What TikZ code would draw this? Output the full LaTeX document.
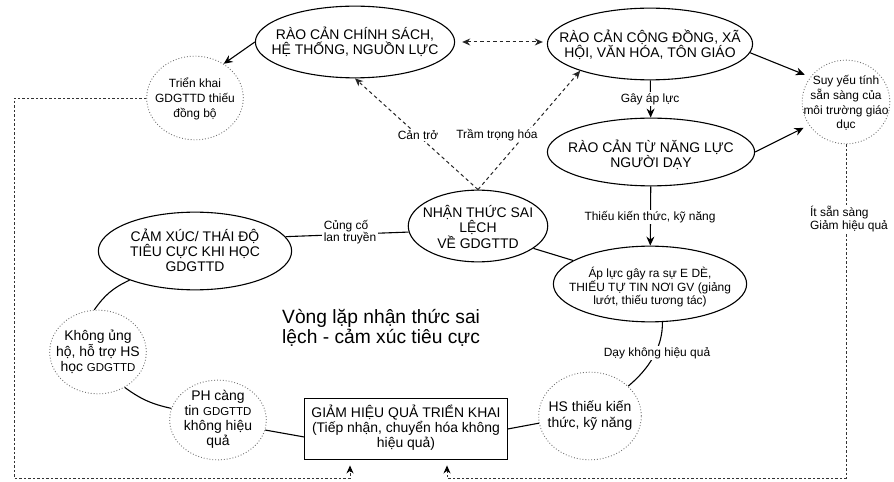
\documentclass[tikz,border=0pt]{standalone}
\usepackage{fontspec}
\setmainfont{Liberation Sans}
\usetikzlibrary{shapes.geometric,arrows.meta,calc}
\begin{document}
\begin{tikzpicture}[x=1bp,y=1bp,
  oval/.style={draw=black, line width=1.1bp, ellipse, inner sep=0pt},
  dotc/.style={draw=black!55, dotted, line width=0.9bp, ellipse, inner sep=0pt},
  boxed/.style={draw=black, line width=1.1bp, rectangle, inner sep=0pt},
  bigtxt/.style={align=center, inner sep=0pt, font=\fontsize{14}{15}\selectfont},
  midtxt/.style={align=center, inner sep=0pt, font=\fontsize{12}{15}\selectfont},
  smltxt/.style={align=center, inner sep=0pt, font=\fontsize{12}{12.5}\selectfont},
  lbl/.style={fill=white, inner sep=1.5bp, align=center, font=\fontsize{12}{12.5}\selectfont},
  conn/.style={draw=black, line width=1.1bp},
  arr/.style={conn, -{Stealth[length=9bp,width=8bp]}},
  dsharr/.style={draw=black!85, line width=1bp, dash pattern=on 3.5bp off 3bp, -{Stealth[length=8bp,width=7bp]}},
  perim/.style={draw=black!80, line width=0.9bp, dash pattern=on 2.5bp off 2bp},
  perimtip/.style={-{Stealth[length=8bp,width=7bp,color=black]}, shorten >=5bp}
]
\useasboundingbox (0,0) rectangle (894,-482);

% main shapes
\node[oval, minimum width=200, minimum height=72] (cs) at (355,-42) {};
\node[bigtxt] (cst) at (355,-42) {RÀO CẢN CHÍNH SÁCH,\\HỆ THỐNG, NGUỒN LỰC};
\node[oval, minimum width=206, minimum height=72] (cd) at (650,-44) {};
\node[bigtxt] (cdt) at (650,-45) {RÀO CẢN CỘNG ĐỒNG, XÃ\\HỘI, VĂN HÓA, TÔN GIÁO};
\node[oval, minimum width=208, minimum height=68] (nl) at (651,-152) {};
\node[bigtxt] (nlt) at (651,-155) {RÀO CẢN TỪ NĂNG LỰC\\NGƯỜI DẠY};
\node[oval, minimum width=140, minimum height=72] (nt) at (478,-226) {};
\node[bigtxt, font=\fontsize{14}{14}\selectfont] (ntt) at (478,-227) {NHẬN THỨC SAI\\LỆCH\\VỀ GDGTTD};
\node[oval, minimum width=194, minimum height=78] (cx) at (195,-251) {};
\node[bigtxt] (cxt) at (195,-250) {CẢM XÚC/ THÁI ĐỘ\\TIÊU CỰC KHI HỌC\\GDGTTD};
\node[oval, minimum width=194, minimum height=76] (ap) at (650,-284) {};
\node[smltxt] (apt) at (650,-287) {Áp lực gây ra sự E DÈ,\\THIẾU TỰ TIN NƠI GV (giảng\\lướt, thiếu tương tác)};
\node[boxed, minimum width=203, minimum height=62] (gh) at (406,-429) {};
\node[bigtxt] (ght) at (406,-428) {GIẢM HIỆU QUẢ TRIỂN KHAI\\(Tiếp nhận, chuyển hóa không\\hiệu quả)};

% dotted circles
\node[dotc, minimum width=97, minimum height=84] (tk) at (195,-98) {};
\node[midtxt] (tkt) at (195,-99) {Triển khai\\GDGTTD thiếu\\đồng bộ};
\node[dotc, minimum width=88, minimum height=84] (su) at (846,-102) {};
\node[midtxt, font=\fontsize{12}{14.7}\selectfont] (sut) at (846,-103) {Suy yếu tính\\sẵn sàng của\\môi trường giáo\\dục};
\node[dotc, minimum width=97, minimum height=84] (kh) at (98,-352) {};
\node[bigtxt] (kht) at (98,-352) {Không ủng\\hộ, hỗ trợ HS\\học {\fontsize{11.5}{15}\selectfont GDGTTD}};
\node[dotc, minimum width=97, minimum height=80] (ph) at (218,-420) {};
\node[bigtxt] (pht) at (218,-419.5) {PH càng\\tin {\fontsize{11.5}{15}\selectfont GDGTTD}\\không hiệu\\quả};
\node[dotc, minimum width=103, minimum height=88] (hs) at (590,-416) {};
\node[bigtxt, font=\fontsize{14}{16}\selectfont] (hst) at (590,-416) {HS thiếu kiến\\thức, kỹ năng};

% title
\node[anchor=west, align=left, inner sep=0pt, font=\fontsize{19.3}{20}\selectfont] (title) at (282,-328) {Vòng lặp nhận thức sai\\lệch - cảm xúc tiêu cực};

% perimeter feedback lines
\coordinate (pl) at (14,-478);
\coordinate (ga) at (350,-478);
\coordinate (gb) at (447,-478);
\draw[perim, perimtip] (tk.west) -| (pl) -- (ga) -- (ga |- gh.south);
\draw[perim, perimtip] (su.south) |- (gb) -- (gb |- gh.south);
\node[lbl, align=left] (itl) at (849,-219) {Ít sẵn sàng\\Giảm hiệu quả};

% solid arrows
\draw[arr] (cs.west) -- (tk.50);
\draw[arr, shorten >=6bp] (cd.-5) -- (su.145);
\draw[arr, shorten >=6bp] (nl.east) -- (su.212);
\draw[arr] (cd) -- (nl);
\node[lbl] (gal) at (650,-99) {Gây áp lực};
\draw[arr] (nl) -- (ap);
\node[lbl] (tkl) at (650,-217) {Thiếu kiến thức, kỹ năng};

% dashed arrows
\draw[dsharr, {Stealth[length=8bp,width=7bp]}-{Stealth[length=8bp,width=7bp]}, shorten <=7bp, shorten >=4bp] (cs.east) -- (cs.east -| cd.west);
\draw[dsharr] (nt.north) -- (cs.south);
\draw[dsharr] (nt.north) -- (cd.201);
\node[lbl] (ctl) at (418,-135) {Cản trở};
\node[lbl] (ttl) at (497,-135) {Trầm trọng hóa};

% loop connectors
\draw[conn] (nt.185) -- (cx.9);
\node[lbl, align=left] (ccl) at (350,-232) {Củng cố\\lan truyền};
\draw[conn] (nt.-22) -- (ap.163);
\draw[conn] (ap.-72) .. controls (663,-346) and (650,-368) .. (hs.38);
\node[lbl] (dkl) at (657,-353) {Dạy không hiệu quả};
\draw[conn] (hs.188) -- (gh.east);
\draw[conn] (gh.west |- 0,-437) -- (ph.-12);
\draw[conn] (ph.166) to[bend left=12] (kh.-53);
\draw[conn] (kh.95) to[bend left=15] (cx.204);
\end{tikzpicture}
\end{document}
